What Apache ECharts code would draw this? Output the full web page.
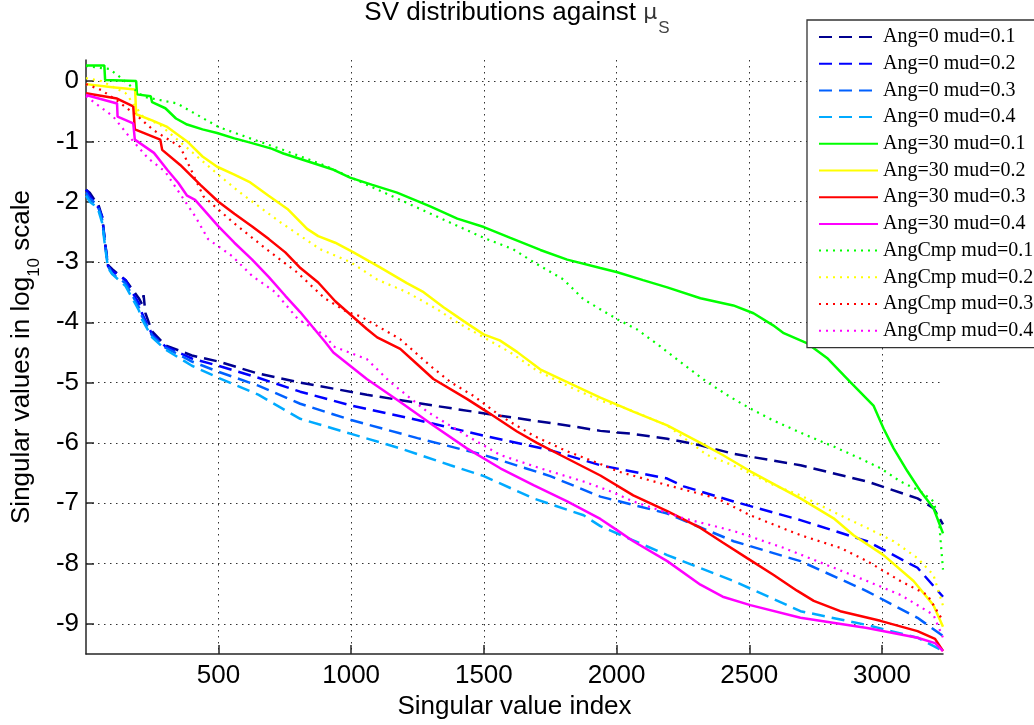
<!DOCTYPE html>
<html>
<head>
<meta charset="utf-8">
<script src="https://cdn.jsdelivr.net/npm/echarts@6/dist/echarts.min.js"></script>
<style>
  html, body { margin: 0; padding: 0; background: #ffffff; }
  #chart { width: 1034px; height: 725px; }
</style>
</head>
<body>
<div id="chart"></div>
<script>
// Tick positions
const xTicks = [500, 1000, 1500, 2000, 2500, 3000];
const yTicks = [0, -1, -2, -3, -4, -5, -6, -7, -8, -9];

// Series names (legend order)
const names = [
  'Ang=0 mud=0.1', 'Ang=0 mud=0.2', 'Ang=0 mud=0.3', 'Ang=0 mud=0.4',
  'Ang=30 mud=0.1', 'Ang=30 mud=0.2', 'Ang=30 mud=0.3', 'Ang=30 mud=0.4',
  'AngCmp mud=0.1', 'AngCmp mud=0.2', 'AngCmp mud=0.3', 'AngCmp mud=0.4'
];

// log10 singular values, [index, value]
const ang0_01 = [[1,-1.8],[15,-1.85],[30,-1.95],[48,-2.05],[62,-2.25],[73,-2.68],[84,-3.05],[100,-3.12],[150,-3.3],[175,-3.45],[200,-3.6],[212,-3.7],[218,-3.55],[225,-3.85],[250,-4.15],[300,-4.38],[400,-4.55],[500,-4.65],[650,-4.85],[808,-5.0],[1059,-5.2],[1310,-5.38],[1562,-5.55],[1814,-5.71],[1939,-5.8],[2063,-5.85],[2191,-5.93],[2316,-6.04],[2441,-6.18],[2693,-6.37],[2944,-6.64],[3134,-6.92],[3194,-7.08],[3230,-7.35]];
const ang0_02 = [[1,-1.8],[15,-1.9],[30,-2.0],[48,-2.1],[62,-2.25],[73,-2.7],[84,-3.07],[100,-3.15],[150,-3.3],[175,-3.5],[200,-3.68],[212,-3.85],[250,-4.2],[300,-4.4],[400,-4.6],[500,-4.72],[650,-4.92],[808,-5.15],[1000,-5.38],[1250,-5.62],[1500,-5.88],[1750,-6.12],[1939,-6.37],[2191,-6.59],[2253,-6.72],[2441,-6.97],[2693,-7.28],[2944,-7.63],[3134,-8.07],[3230,-8.55]];
const ang0_03 = [[1,-1.85],[15,-1.95],[30,-2.0],[48,-2.1],[62,-2.3],[73,-2.7],[84,-3.07],[100,-3.2],[150,-3.35],[175,-3.55],[200,-3.75],[212,-3.9],[250,-4.22],[300,-4.42],[400,-4.65],[500,-4.82],[650,-5.05],[808,-5.35],[1000,-5.62],[1250,-5.92],[1500,-6.2],[1750,-6.55],[1939,-6.89],[2191,-7.17],[2441,-7.63],[2693,-7.96],[2944,-8.46],[3134,-8.9],[3230,-9.2]];
const ang0_04 = [[1,-1.9],[15,-2.0],[30,-2.05],[48,-2.15],[62,-2.35],[73,-2.75],[84,-3.1],[100,-3.2],[150,-3.4],[175,-3.6],[200,-3.8],[212,-3.95],[250,-4.25],[300,-4.45],[400,-4.72],[500,-4.92],[650,-5.2],[808,-5.6],[1000,-5.85],[1185,-6.09],[1374,-6.37],[1500,-6.55],[1687,-6.92],[1876,-7.2],[1939,-7.38],[2191,-7.86],[2441,-8.29],[2693,-8.79],[2944,-9.02],[3134,-9.23],[3230,-9.45]];

const ang30_01 = [[1,0.26],[70,0.26],[73,0.02],[190,0.0],[193,-0.22],[245,-0.25],[250,-0.35],[300,-0.45],[340,-0.62],[382,-0.72],[440,-0.8],[495,-0.86],[560,-0.95],[620,-1.02],[700,-1.12],[745,-1.2],[850,-1.35],[934,-1.47],[996,-1.6],[1080,-1.72],[1173,-1.85],[1300,-2.08],[1400,-2.28],[1500,-2.42],[1600,-2.6],[1713,-2.8],[1814,-2.96],[1939,-3.1],[2003,-3.17],[2100,-3.3],[2191,-3.42],[2316,-3.6],[2440,-3.72],[2516,-3.85],[2590,-4.05],[2630,-4.18],[2719,-4.35],[2793,-4.59],[2881,-4.99],[2968,-5.38],[3006,-5.76],[3044,-6.09],[3096,-6.47],[3145,-6.8],[3194,-7.08],[3230,-7.5]];
const ang30_02 = [[1,-0.05],[100,-0.1],[186,-0.14],[190,-0.55],[250,-0.65],[307,-0.76],[382,-1.0],[440,-1.25],[495,-1.42],[560,-1.55],[620,-1.68],[689,-1.9],[760,-2.12],[834,-2.45],[876,-2.57],[940,-2.68],[1009,-2.84],[1109,-3.09],[1210,-3.35],[1273,-3.5],[1348,-3.75],[1424,-3.98],[1499,-4.2],[1560,-4.3],[1625,-4.49],[1712,-4.78],[1814,-4.99],[1939,-5.25],[2063,-5.48],[2191,-5.71],[2316,-6.0],[2400,-6.2],[2504,-6.47],[2600,-6.7],[2693,-6.92],[2818,-7.25],[2893,-7.53],[3006,-7.86],[3119,-8.29],[3194,-8.69],[3230,-9.05]];
const ang30_03 = [[1,-0.2],[118,-0.29],[179,-0.42],[185,-0.8],[281,-0.97],[288,-1.14],[356,-1.39],[432,-1.72],[500,-2.0],[560,-2.2],[627,-2.41],[690,-2.62],[752,-2.84],[809,-3.1],[876,-3.34],[940,-3.65],[1059,-4.11],[1098,-4.25],[1185,-4.44],[1250,-4.7],[1310,-4.94],[1436,-5.27],[1511,-5.48],[1625,-5.81],[1700,-6.0],[1788,-6.2],[1939,-6.54],[2063,-6.87],[2191,-7.13],[2316,-7.41],[2400,-7.65],[2492,-7.91],[2592,-8.19],[2680,-8.45],[2743,-8.62],[2843,-8.79],[2994,-8.95],[3134,-9.12],[3200,-9.25],[3230,-9.45]];
const ang30_04 = [[1,-0.23],[118,-0.37],[120,-0.59],[179,-0.7],[185,-0.97],[257,-1.19],[307,-1.47],[349,-1.69],[382,-1.9],[412,-1.97],[500,-2.41],[560,-2.68],[627,-2.96],[690,-3.25],[752,-3.56],[808,-3.83],[903,-4.33],[933,-4.5],[1059,-4.94],[1185,-5.32],[1310,-5.71],[1436,-6.09],[1562,-6.42],[1687,-6.7],[1814,-6.97],[1939,-7.26],[2003,-7.45],[2063,-7.63],[2191,-7.96],[2316,-8.35],[2400,-8.55],[2504,-8.69],[2693,-8.9],[2944,-9.07],[3134,-9.23],[3200,-9.32],[3230,-9.45]];

const cmp_01 = [[1,0.25],[90,0.2],[142,0.02],[218,-0.26],[344,-0.37],[420,-0.56],[500,-0.76],[620,-0.95],[750,-1.15],[900,-1.4],[1000,-1.6],[1100,-1.8],[1200,-2.0],[1300,-2.2],[1400,-2.4],[1500,-2.6],[1611,-2.79],[1687,-3.0],[1800,-3.29],[1876,-3.62],[2003,-3.95],[2078,-4.12],[2165,-4.4],[2253,-4.7],[2341,-4.99],[2429,-5.24],[2504,-5.43],[2592,-5.63],[2719,-5.88],[2818,-6.06],[2919,-6.26],[2995,-6.42],[3070,-6.64],[3145,-6.8],[3194,-6.97],[3215,-7.3],[3230,-8.1]];
const cmp_02 = [[1,0.05],[60,0.0],[150,-0.2],[216,-0.59],[281,-0.73],[380,-1.1],[507,-1.58],[582,-1.85],[733,-2.34],[884,-2.79],[997,-3.0],[1098,-3.29],[1210,-3.5],[1323,-3.78],[1399,-4.0],[1500,-4.25],[1600,-4.5],[1700,-4.8],[1814,-5.05],[1939,-5.3],[2038,-5.43],[2191,-5.71],[2341,-6.2],[2466,-6.42],[2592,-6.7],[2693,-6.87],[2843,-7.2],[2944,-7.41],[3044,-7.63],[3134,-7.91],[3194,-8.19],[3230,-8.7]];
const cmp_03 = [[1,-0.05],[60,-0.15],[123,-0.34],[200,-0.6],[254,-0.81],[356,-1.09],[400,-1.5],[443,-1.91],[557,-2.35],[682,-2.79],[796,-3.17],[900,-3.6],[985,-3.83],[1035,-3.9],[1185,-4.28],[1298,-4.72],[1374,-4.99],[1461,-5.22],[1562,-5.55],[1687,-5.88],[1814,-6.14],[1939,-6.35],[2003,-6.47],[2191,-6.7],[2379,-6.92],[2504,-7.2],[2693,-7.53],[2843,-7.74],[2944,-7.96],[3070,-8.29],[3171,-8.52],[3230,-8.95]];
const cmp_04 = [[1,-0.25],[104,-0.59],[160,-0.9],[235,-1.28],[299,-1.5],[412,-2.24],[461,-2.62],[551,-2.9],[627,-3.23],[714,-3.5],[800,-3.95],[903,-4.22],[933,-4.4],[1059,-4.61],[1147,-4.99],[1286,-5.48],[1436,-5.88],[1562,-6.2],[1712,-6.42],[1876,-6.64],[1976,-6.8],[2063,-6.97],[2253,-7.25],[2441,-7.46],[2630,-7.74],[2818,-8.07],[2944,-8.29],[3070,-8.52],[3194,-8.85],[3230,-9.23]];

const allData = [ang0_01, ang0_02, ang0_03, ang0_04,
                 ang30_01, ang30_02, ang30_03, ang30_04,
                 cmp_01, cmp_02, cmp_03, cmp_04];

const colors = ['#00008f', '#0000ff', '#0060ff', '#00aaff',
                '#00ff00', '#ffff00', '#ff0000', '#ff00ff',
                '#00ff00', '#ffff00', '#ff0000', '#ff00ff'];

function lineType(i) {
  if (i < 4) return { type: [13, 7], width: 2.5 };
  if (i < 8) return { type: 'solid', width: 2.5 };
  return { type: [2, 5], width: 2.2 };
}

const series = names.map((name, i) => ({
  name: name,
  type: 'line',
  data: allData[i],
  symbol: 'none',
  showSymbol: false,
  animation: false,
  clip: true,
  lineStyle: Object.assign({ color: colors[i], cap: 'butt' }, lineType(i)),
  itemStyle: { color: colors[i] }
}));

const axisFont = 'Liberation Sans, Arial, sans-serif';
const gridLine = { show: true, lineStyle: { color: '#333333', width: 1, type: [1.5, 4.5] } };

const chart = echarts.init(document.getElementById('chart'), null, { renderer: 'canvas' });
chart.setOption({
  backgroundColor: '#ffffff',
  animation: false,
  title: {
    text: '{a|SV distributions against }{m|μ}{s|S}',
    left: 'center',
    top: 0,
    padding: 0,
    textStyle: {
      fontWeight: 'normal',
      rich: {
        a: { fontFamily: axisFont, fontSize: 26, fontWeight: 'normal', color: '#000', lineHeight: 30, verticalAlign: 'top' },
        m: { fontFamily: 'DejaVu Sans, sans-serif', fontSize: 22, fontWeight: 'normal', color: '#333', lineHeight: 30, verticalAlign: 'top', padding: [2, 0, 0, 0] },
        s: { fontFamily: axisFont, fontSize: 17, fontWeight: 'normal', color: '#444', lineHeight: 17, verticalAlign: 'top', padding: [20, 0, 0, 1] }
      }
    }
  },
  legend: {
    orient: 'vertical',
    left: 807,
    top: 20,
    data: names,
    selectedMode: false,
    backgroundColor: '#ffffff',
    borderColor: '#333333',
    borderWidth: 1.3,
    borderRadius: 0,
    padding: [7, 20, 7, 11],
    itemWidth: 59,
    itemHeight: 14,
    itemGap: 6.7,
    itemStyle: { color: 'rgba(0,0,0,0)', borderWidth: 0, opacity: 0 },
    textStyle: { fontFamily: 'Liberation Serif, Times New Roman, serif', fontSize: 20, color: '#000', lineHeight: 20 }
  },
  grid: { left: 86, right: 91, top: 60, bottom: 68, containLabel: false },
  xAxis: {
    type: 'value',
    min: 1,
    max: 3230,
    name: 'Singular value index',
    nameLocation: 'middle',
    nameGap: 40,
    nameTextStyle: { fontFamily: axisFont, fontSize: 26, color: '#000' },
    axisLine: { show: true, onZero: false, lineStyle: { color: '#262626', width: 1.5 } },
    axisTick: { show: true, inside: true, length: 9, customValues: xTicks, lineStyle: { color: '#262626', width: 1.5 } },
    axisLabel: { customValues: xTicks, margin: 9, fontFamily: axisFont, fontSize: 26, color: '#000',
                 formatter: v => String(v) },
    splitLine: gridLine
  },
  yAxis: {
    type: 'value',
    min: -9.5,
    max: 0.35,
    name: '{a|Singular values in log}{s|10}{a| scale}',
    nameLocation: 'middle',
    nameRotate: 90,
    nameGap: 47,
    nameTextStyle: {
      rich: {
        a: { fontFamily: axisFont, fontSize: 26, color: '#000', lineHeight: 30, verticalAlign: 'top' },
        s: { fontFamily: axisFont, fontSize: 17, color: '#000', lineHeight: 17, verticalAlign: 'top', padding: [17, 0, 0, 0] }
      }
    },
    axisLine: { show: true, onZero: false, lineStyle: { color: '#262626', width: 1.5 } },
    axisTick: { show: true, inside: true, length: 8, customValues: yTicks, lineStyle: { color: '#262626', width: 1.5 } },
    axisLabel: { customValues: yTicks, margin: 7, fontFamily: axisFont, fontSize: 26, color: '#000',
                 formatter: v => String(v) },
    splitLine: gridLine
  },
  series: series
});
</script>
</body>
</html>
